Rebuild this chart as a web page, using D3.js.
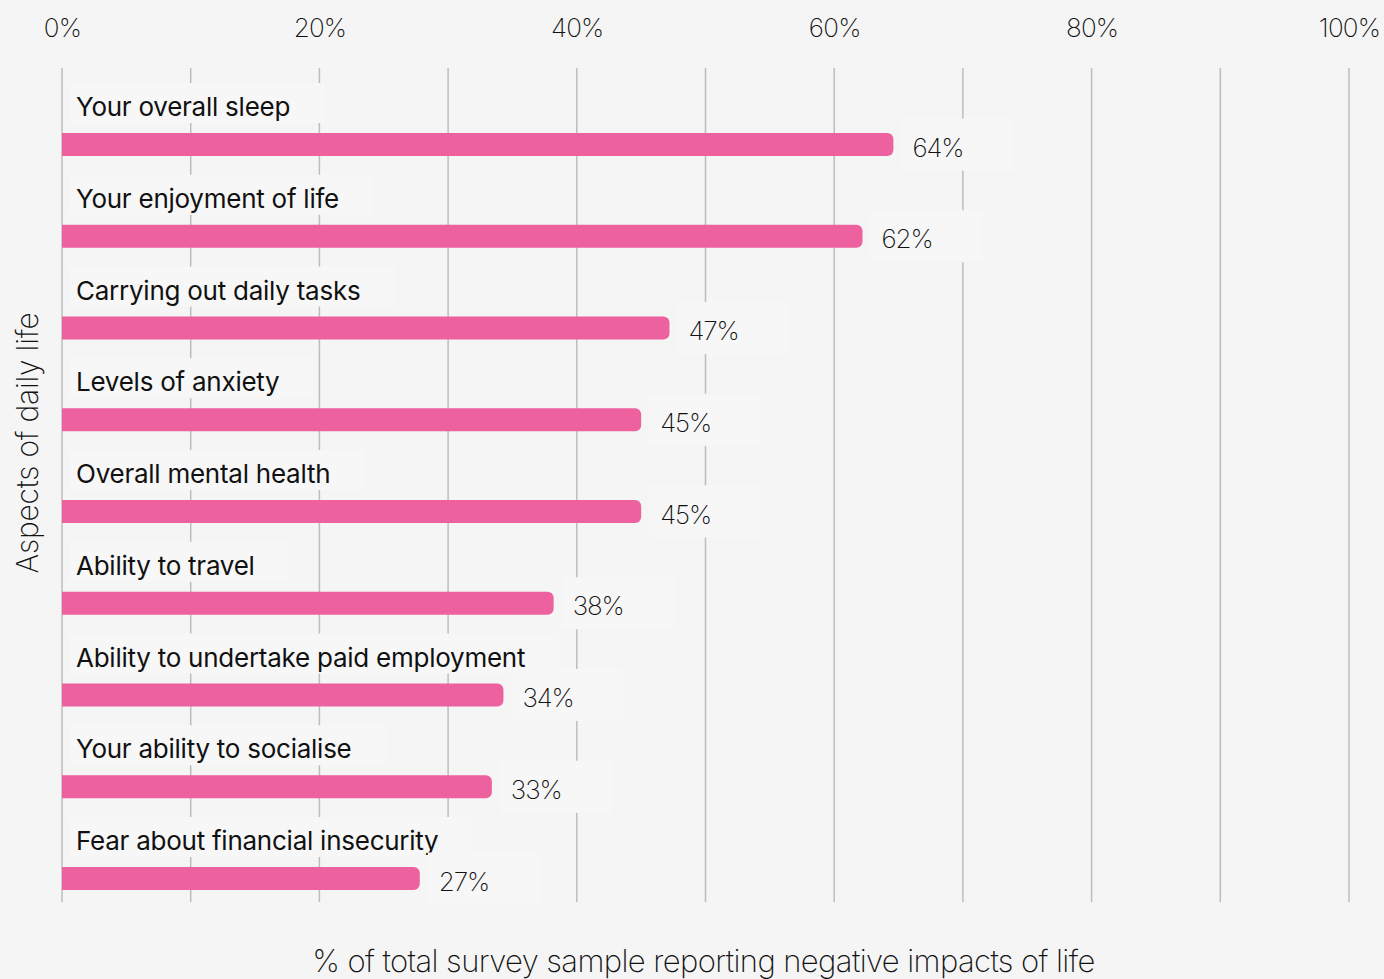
<!DOCTYPE html>
<html>
<head>
<meta charset="utf-8">
<script src="https://cdn.jsdelivr.net/npm/d3@7/dist/d3.min.js"></script>
<style>
  html, body { margin: 0; padding: 0; background: #f5f5f5; }
  svg { display: block; }
</style>
</head>
<body>
<svg id="chart" width="1384" height="979"></svg>
<script>
const categories = [
  "Your overall sleep",
  "Your enjoyment of life",
  "Carrying out daily tasks",
  "Levels of anxiety",
  "Overall mental health",
  "Ability to travel",
  "Ability to undertake paid employment",
  "Your ability to socialise",
  "Fear about financial insecurity"
];
const values = [64.6, 62.2, 47.2, 45.0, 45.0, 38.2, 34.3, 33.4, 27.8];
const valueLabels = ["64%", "62%", "47%", "45%", "45%", "38%", "34%", "33%", "27%"];
const tickValues = [0, 20, 40, 60, 80, 100];
const gridValues = [0, 10, 20, 30, 40, 50, 60, 70, 80, 90, 100];
const xTitle = "% of total survey sample reporting negative impacts of life";
const yTitle = "Aspects of daily life";

const svg = d3.select("#chart");
const W = 1384, H = 979;
const bg = "#f5f5f5", boxFill = "#f7f7f7";
const barColor = "#ec619e";
const font = "Inter, 'Noto Sans', sans-serif";

svg.append("rect").attr("width", W).attr("height", H).attr("fill", bg);

const x = d3.scaleLinear().domain([0, 100]).range([62, 1349]);
const y = d3.scalePoint().domain(categories).range([144.5, 878.5]);
const barH = 23;
const r = 6;

// gridlines
svg.append("g").selectAll("line").data(gridValues).join("line")
  .attr("x1", d => x(d)).attr("x2", d => x(d))
  .attr("y1", 68).attr("y2", 902)
  .attr("stroke", "#bdbdbd").attr("stroke-width", 1.5);

// top tick labels via axis
const axis = d3.axisTop(x).tickValues(tickValues).tickSize(0).tickFormat(d => d + "%");
const gAxis = svg.append("g").attr("transform", "translate(0,40)").call(axis);
gAxis.select(".domain").remove();
gAxis.selectAll("text")
  .attr("font-family", font).attr("font-weight", 250).attr("font-size", 26)
  .attr("fill", "#111").attr("dy", 0).attr("letter-spacing", -0.8);

const rows = svg.append("g").selectAll("g").data(categories).join("g");

rows.each(function(c, i) {
  const g = d3.select(this);
  const cy = y(c);
  const box = g.append("rect").attr("fill", boxFill);
  const t = g.append("text")
    .attr("x", 76).attr("y", cy - 28.5)
    .attr("font-family", font).attr("font-weight", 400).attr("font-size", 26)
    .attr("letter-spacing", -0.25)
    .attr("fill", "#111").text(c);
  const w = t.node().getComputedTextLength();
  box.attr("x", 70).attr("y", cy - 61.5).attr("width", w + 40).attr("height", 40);

  // bar with rounded right end
  const x0 = x(0), x1 = x(values[i]);
  const top = cy - barH / 2, bot = cy + barH / 2;
  const p = d3.path();
  p.moveTo(x0, top);
  p.lineTo(x1 - r, top);
  p.arcTo(x1, top, x1, top + r, r);
  p.lineTo(x1, bot - r);
  p.arcTo(x1, bot, x1 - r, bot, r);
  p.lineTo(x0, bot);
  p.closePath();
  g.append("path").attr("d", p.toString()).attr("fill", barColor);

  // value label
  g.append("rect").attr("fill", boxFill)
    .attr("x", x1 + 8).attr("y", cy - 26).attr("width", 112).attr("height", 52);
  g.append("text")
    .attr("x", x1 + 19).attr("y", cy + 12)
    .attr("font-family", font).attr("font-weight", 250).attr("font-size", 26)
    .attr("letter-spacing", -1.1)
    .attr("fill", "#111").text(valueLabels[i]);
});

// axis titles
svg.append("text")
  .attr("x", (x(0) + x(100)) / 2 - 2).attr("y", 972)
  .attr("text-anchor", "middle")
  .attr("font-family", font).attr("font-weight", 250).attr("font-size", 31)
  .attr("letter-spacing", -0.6)
  .attr("fill", "#111").text(xTitle);

svg.append("text")
  .attr("transform", "translate(38,443) rotate(-90)")
  .attr("text-anchor", "middle")
  .attr("font-family", font).attr("font-weight", 250).attr("font-size", 30)
  .attr("letter-spacing", -0.2)
  .attr("fill", "#111").text(yTitle);
</script>
</body>
</html>
